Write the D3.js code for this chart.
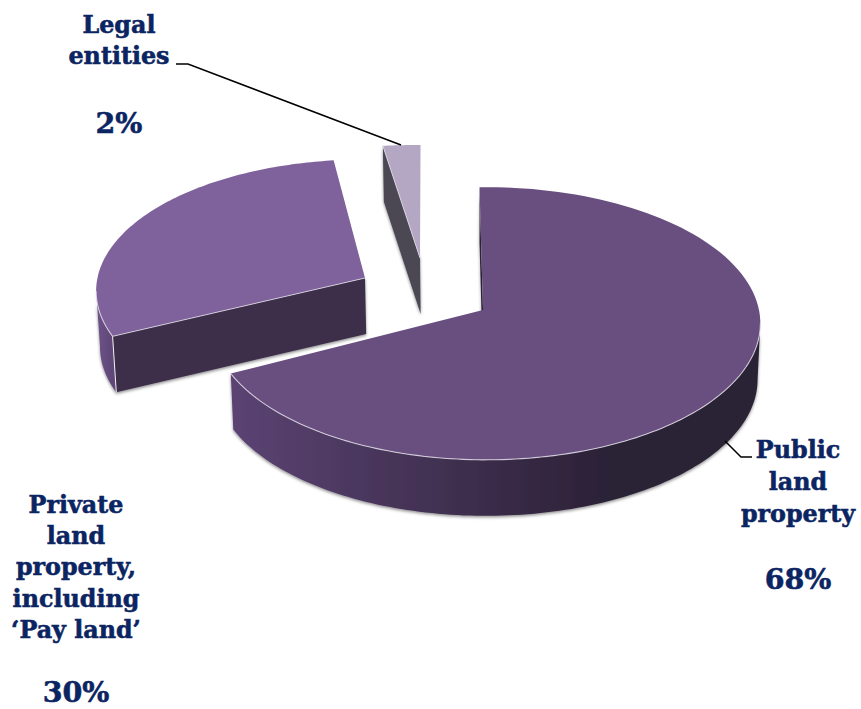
<!DOCTYPE html>
<html>
<head>
<meta charset="utf-8">
<script src="https://cdn.jsdelivr.net/npm/d3@7/dist/d3.min.js"></script>
<style>
html,body{margin:0;padding:0;background:#fff;}
svg{display:block;}
text{font-family:"DejaVu Serif",serif;font-weight:700;fill:#0b2462;stroke:#0b2462;stroke-width:0.55px;text-anchor:middle;}
</style>
</head>
<body>
<div id="chart"></div>
<script>
// Land ownership shares
const categories = ["Public land property", "Private land property, including ‘Pay land’", "Legal entities"];
const shares = [68, 30, 2];
const shareLabels = ["68%", "30%", "2%"];

// Slice styling
const topColors = ["#694f80", "#7f629c", "#b3a7c4"];
const cutColors = ["#2a2035", "#3c2e49", "#4b4753"];
const rimStops = [["#5b4373", "#2b2136"], ["#6f5489", "#5e4678"], ["#4b4753", "#4b4753"]];

// Placement of each slice after it is pulled out of the pie
const sliceShift = [[0, 0], [-118, -32], [-63, -52]];
const sliceStretchX = [1, 0.98, 1.21];
const sliceStretchY = [1, 0.965, 0.92];
const sliceTurn = [0, 1.3, 1.6];
const rimOffset = [3, 0, 0];

const width = 861, height = 709;
const cx = 483, cy = 310;          // pie centre on the page
const rX = 273, rY = 135;          // disc radii before perspective
const persp = 0.099;               // foreshortening of the far side
const depth = 56;                  // thickness of the disc
const deg = Math.PI / 180;

const svg = d3.select("#chart").append("svg").attr("width", width).attr("height", height);
const defs = svg.append("defs");

const shadow = defs.append("filter").attr("id", "soft")
  .attr("x", "-10%").attr("y", "-10%").attr("width", "120%").attr("height", "120%");
shadow.append("feDropShadow").attr("dx", 0).attr("dy", 1.5).attr("stdDeviation", 1.6)
  .attr("flood-color", "#000").attr("flood-opacity", 0.45);

const pie = d3.pie().sort(null).value(d => d)
  .startAngle(-1.5 * deg).endAngle((360 - 1.5) * deg);
const arcs = pie(shares);

// Scales for the unit disc; perspective is divided in afterwards
const xDisc = d3.scaleLinear().domain([-1, 1]).range([-rX, rX]);
const yDisc = d3.scaleLinear().domain([-1, 1]).range([rY, -rY]);

function project(i, a, r, drop) {
  const X = r * Math.sin(a), Y = r * Math.cos(a);
  const w = 1 + persp * Y;
  let x = cx + sliceShift[i][0] + r * rimOffset[i] + xDisc(X) * sliceStretchX[i] / w;
  const y = cy + sliceShift[i][1] + yDisc(Y) * sliceStretchY[i] / w + (drop ? depth : 0);
  if (drop) x = cx + (x - cx) * 0.99;   // verticals converge slightly downward
  return [x, y];
}

const line = d3.line();
const arcPoints = (i, a0, a1, drop) =>
  d3.range(0, 121).map(k => project(i, a0 + (a1 - a0) * k / 120, 1, drop));

// Part of the rim that faces the viewer
const frontFrom = Math.acos(-persp), frontTo = 2 * Math.PI - frontFrom;

[1, 2, 0].forEach(i => {
  const turn = sliceTurn[i] * deg;
  const a0 = arcs[i].startAngle + turn, a1 = arcs[i].endAngle + turn;
  const g = svg.append("g").attr("class", "slice");
  const lo = Math.max(a0, frontFrom), hi = Math.min(a1, frontTo);

  const grad = defs.append("linearGradient").attr("id", "rim" + i)
    .attr("gradientUnits", "userSpaceOnUse")
    .attr("x1", project(i, hi, 1)[0]).attr("x2", i === 0 ? 610 : project(i, lo, 1)[0])
    .attr("y1", 0).attr("y2", 0);
  grad.append("stop").attr("offset", 0).attr("stop-color", rimStops[i][0]);
  grad.append("stop").attr("offset", 1).attr("stop-color", rimStops[i][1]);

  const walls = g.append("g").attr("filter", "url(#soft)");

  // Radial cut on the leading edge of the slice
  walls.append("path")
    .attr("d", line([project(i, a0, 1), project(i, a0, 1, true), project(i, a0, 0, true), project(i, a0, 0)]) + "Z")
    .attr("fill", cutColors[i]);

  // Curved outer wall
  if (hi > lo) {
    const upper = arcPoints(i, lo, hi), lower = arcPoints(i, lo, hi, true).reverse();
    walls.append("path").attr("d", line(upper.concat(lower)) + "Z").attr("fill", `url(#rim${i})`);
    if (i === 1) {
      // bright corner where the cut meets the rim
      g.append("path").attr("d", line([project(i, a0, 1), project(i, a0, 1, true)]))
        .attr("stroke", "#f2eff5").attr("stroke-width", 1).attr("fill", "none");
    }
  }

  // Top face
  g.append("path")
    .attr("d", line([project(i, a0, 0)].concat(arcPoints(i, a0, a1))) + "Z")
    .attr("fill", topColors[i]);

  // Light edge along the front of the top face
  if (hi > lo) {
    g.append("path").attr("d", line(arcPoints(i, lo, hi)))
      .attr("fill", "none").attr("stroke", "#e6e1ea").attr("stroke-opacity", 0.8).attr("stroke-width", 1.1);
  }
  if (i !== 0) {
    g.append("path").attr("d", line([project(i, a0, 0), project(i, a0, 1)]))
      .attr("fill", "none").attr("stroke", "#e6e1ea").attr("stroke-opacity", 0.8).attr("stroke-width", 1);
  }
});

// Leader lines
const leaders = [
  [[725, 441], [741, 457], [752, 457]],
  [[176, 64], [188, 64], [401, 145]]
];
svg.selectAll("path.leader").data(leaders).join("path")
  .attr("class", "leader").attr("d", line).attr("fill", "none")
  .attr("stroke", "#000").attr("stroke-width", 1.5);

// Text blocks: wrapped category name, then the share
const nameLines = [["Public", "land", "property"], ["Private", "land", "property,", "including", "‘Pay land’"], ["Legal", "entities"]];
const nameAnchors = [[798, 458, 32], [76, 513, 31.2], [119, 33, 31]];
const shareAnchors = [[798, 589], [76, 702], [119, 133]];

categories.forEach((name, i) => {
  const [x, y, step] = nameAnchors[i];
  const t = svg.append("g").attr("aria-label", name);
  t.selectAll("text").data(nameLines[i]).join("text")
    .attr("x", x).attr("y", (d, k) => y + k * step)
    .attr("font-size", 23.8).text(d => d);
  t.append("text").attr("x", shareAnchors[i][0]).attr("y", shareAnchors[i][1])
    .attr("font-size", 28.5).text(shareLabels[i]);
});
</script>
</body>
</html>
